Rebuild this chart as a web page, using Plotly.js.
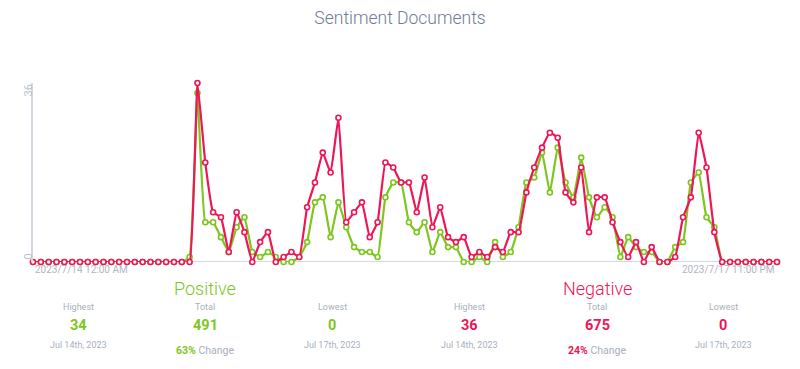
<!DOCTYPE html>
<html>
<head>
<meta charset="utf-8">
<script src="https://cdn.plot.ly/plotly-3.0.1.min.js"></script>
<style>html,body{margin:0;padding:0;background:#fff;}#chart{width:800px;height:369px;}</style>
</head>
<body>
<div id="chart"></div>
<script>
var startLabel = "2023/7/14 12:00 AM";
var endLabel = "2023/7/17 11:00 PM";
var positive = [0,0,0,0,0,0,0,0,0,0,0,0,0,0,0,0,0,0,0,0,
  1,34,8,8,5,2,7,9,2,1,2,1,0,0,1,4,12,13,5,12,7,3,2,2,1,13,16,16,8,6,8,2,6,3,3,0,0,1,0,4,1,2,7,16,17,22,14,23,16,13,21,13,9,11,9,1,5,3,2,2,0,0,3,4,16,18,9,7,
  0,0,0,0,0,0,0,0];
var negative = [0,0,0,0,0,0,0,0,0,0,0,0,0,0,0,0,0,0,0,0,
  0,36,20,10,9,2,10,6,0,4,6,0,1,2,1,11,16,22,18,29,8,10,12,5,8,20,19,16,16,10,17,7,11,5,4,5,1,2,1,3,2,6,6,14,19,23,26,25,14,12,19,6,13,13,8,4,1,4,0,3,0,0,1,9,13,26,19,6,
  0,0,0,0,0,0,0,0];
var yTicks = [0, 36];
var posStats = {name:"Positive", highest:"34", highestDate:"Jul 14th, 2023", total:"491", change:"63%", lowest:"0", lowestDate:"Jul 17th, 2023"};
var negStats = {name:"Negative", highest:"36", highestDate:"Jul 14th, 2023", total:"675", change:"24%", lowest:"0", lowestDate:"Jul 17th, 2023"};

var GREEN = "#7dc61e", RED = "#ee1656";
var hours = [];
var t0 = Date.UTC(2023, 6, 14, 0, 0, 0);
for (var i = 0; i < positive.length; i++) {
  var d = new Date(t0 + i * 3600000);
  hours.push(d.toISOString().slice(0, 19).replace("T", " "));
}
function trace(name, ys, color) {
  return {x: hours, y: ys, name: name, type: "scatter", mode: "lines+markers",
    line: {color: color, width: 2.2, shape: "spline", smoothing: 0.3},
    marker: {color: "#ffffff", size: 5, line: {color: color, width: 1.6}},
    cliponaxis: false, hoverinfo: "x+y"};
}
var data = [trace("Positive", positive, GREEN), trace("Negative", negative, RED)];
var gray = "#a8afbd";
var FONT = "Roboto, 'Open Sans', sans-serif";
function px(x){ return (x - 33) / 744; }
function py(y){ return (262 - y) / 179; }
var ann = [];
ann.push({xref:"paper", yref:"paper", x:0, y:py(269), xanchor:"left", yanchor:"middle", showarrow:false, text:startLabel, font:{family:FONT, size:10, color:"#b0b6c3"}});
ann.push({xref:"paper", yref:"paper", x:1, y:py(269), xanchor:"right", yanchor:"middle", showarrow:false, text:endLabel, font:{family:FONT, size:10, color:"#b0b6c3"}});
ann.push({xref:"paper", yref:"y", x:px(27.5), y:yTicks[1], xanchor:"center", yanchor:"top", textangle:-90, showarrow:false, text:String(yTicks[1]), font:{family:FONT, size:11, color:"#b8bfcc"}});
ann.push({xref:"paper", yref:"y", x:px(27.5), y:yTicks[0], xanchor:"center", yanchor:"bottom", textangle:-90, showarrow:false, text:String(yTicks[0]), font:{family:FONT, size:11, color:"#b8bfcc"}});

function addStats(s, cx, hx, lx, color) {
  ann.push({xref:"paper", yref:"paper", x:px(cx), y:py(288), xanchor:"center", yanchor:"middle", showarrow:false, text:s.name, font:{family:FONT, size:18, color:color, weight:300}});
  var cols = [[hx, "Highest", s.highest, s.highestDate], [cx, "Total", s.total, null], [lx, "Lowest", s.lowest, s.lowestDate]];
  cols.forEach(function(c){
    ann.push({xref:"paper", yref:"paper", x:px(c[0]), y:py(307), xanchor:"center", yanchor:"middle", showarrow:false, text:c[1], font:{family:FONT, size:9, color:gray}});
    ann.push({xref:"paper", yref:"paper", x:px(c[0]), y:py(325), xanchor:"center", yanchor:"middle", showarrow:false, text:"<b>"+c[2]+"</b>", font:{family:FONT, size:14.5, color:color}});
    if (c[3]) ann.push({xref:"paper", yref:"paper", x:px(c[0]), y:py(345), xanchor:"center", yanchor:"middle", showarrow:false, text:c[3], font:{family:FONT, size:9, color:gray}});
  });
  ann.push({xref:"paper", yref:"paper", x:px(cx), y:py(350), xanchor:"center", yanchor:"middle", showarrow:false,
    text:"<b><span style='color:"+color+"'>"+s.change+"</span></b> Change", font:{family:FONT, size:10.5, color:gray}});
}
addStats(posStats, 205, 78, 332, GREEN);
addStats(negStats, 597, 469, 723, RED);

var layout = {
  width: 800, height: 369,
  margin: {l: 33, r: 23, t: 83, b: 107},
  paper_bgcolor: "#ffffff", plot_bgcolor: "#ffffff",
  showlegend: false,
  title: {text: "Sentiment Documents", x: 0.5, xanchor: "center", y: 0.951, yanchor: "middle", font: {family: FONT, size: 17.5, color: "#6e7a96", weight: 300}},
  xaxis: {type: "date", range: [hours[0], hours[hours.length - 1]], showgrid: false, zeroline: false, showticklabels: false, ticks: "", showline: false, fixedrange: true},
  yaxis: {range: [0, 36], showgrid: false, zeroline: false, showticklabels: false, ticks: "", showline: true, linecolor: "#d3d8e2", linewidth: 2, fixedrange: true},
  shapes: [{type: "line", xref: "paper", yref: "y", x0: 0, x1: 1, y0: 0, y1: 0, line: {color: "#d3d8e2", width: 2}, layer: "below"}],
  annotations: ann
};
Plotly.newPlot("chart", data, layout, {displayModeBar: false, staticPlot: true});
</script>
</body>
</html>
